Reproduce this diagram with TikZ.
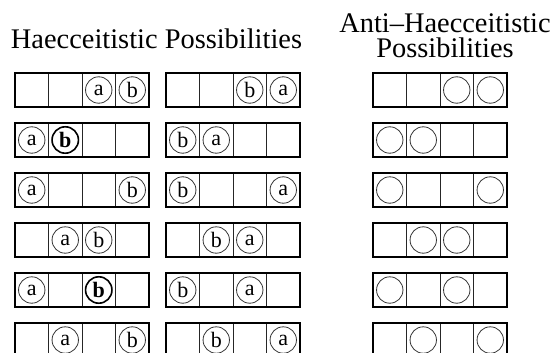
\documentclass[tikz,border=0pt]{standalone}
\usepackage{fontspec}
\setmainfont{Liberation Serif}
\usepackage{tikz}

\begin{document}
\begin{tikzpicture}[x=1pt,y=-1pt,line width=0.8pt]
\tikzstyle{head}=[font=\fontsize{28.4}{25}\selectfont,inner sep=0pt]
\tikzstyle{frame}=[line width=1.8pt]
\tikzstyle{tok}=[circle,draw=black!80,line width=0.8pt,minimum size=26.4pt,
                 inner sep=0pt,font=\fontsize{22}{22}\selectfont]
\tikzstyle{btok}=[tok,draw=black,line width=1.6pt,font=\fontsize{22}{22}\selectfont\bfseries]
\clip (0,0) rectangle (557,353);

% headings
\node [head,anchor=base] (hd) at (156.5,49) {Haecceitistic Possibilities};
\node [head,anchor=north,align=center] (ahd) at (445,13)
      {Anti--Haecceitistic\\Possibilities};

% one row of strips per arrangement of the two tokens
\foreach \p/\q/\bs [count=\r] in {3/4/tok,1/2/btok,1/4/tok,2/3/tok,1/3/btok,2/4/tok} {
  \pgfmathsetmacro{\ty}{73+50*(\r-1)}
  \foreach \sx in {15,166,373} {
    \draw [black!85] (\sx+33.5,\ty) -- +(0,34) (\sx+67,\ty) -- +(0,34)
                     (\sx+100.5,\ty) -- +(0,34);
    \draw [frame] (\sx,\ty) rectangle +(134,34);
  }
  % haecceitistic: a then b, and the swap
  \node [tok] (ha\r) at (15-16.75+33.5*\p,\ty+17) {a};
  \node [\bs] (hb\r) at (15-16.75+33.5*\q,\ty+17) {b};
  \node [tok] (sb\r) at (166-16.75+33.5*\p,\ty+17) {b};
  \node [tok] (sa\r) at (166-16.75+33.5*\q,\ty+17) {a};
  % anti-haecceitistic: just two occupied cells
  \node [tok] (np\r) at (373-16.75+33.5*\p,\ty+17) {};
  \node [tok] (nq\r) at (373-16.75+33.5*\q,\ty+17) {};
}
\end{tikzpicture}
\end{document}
